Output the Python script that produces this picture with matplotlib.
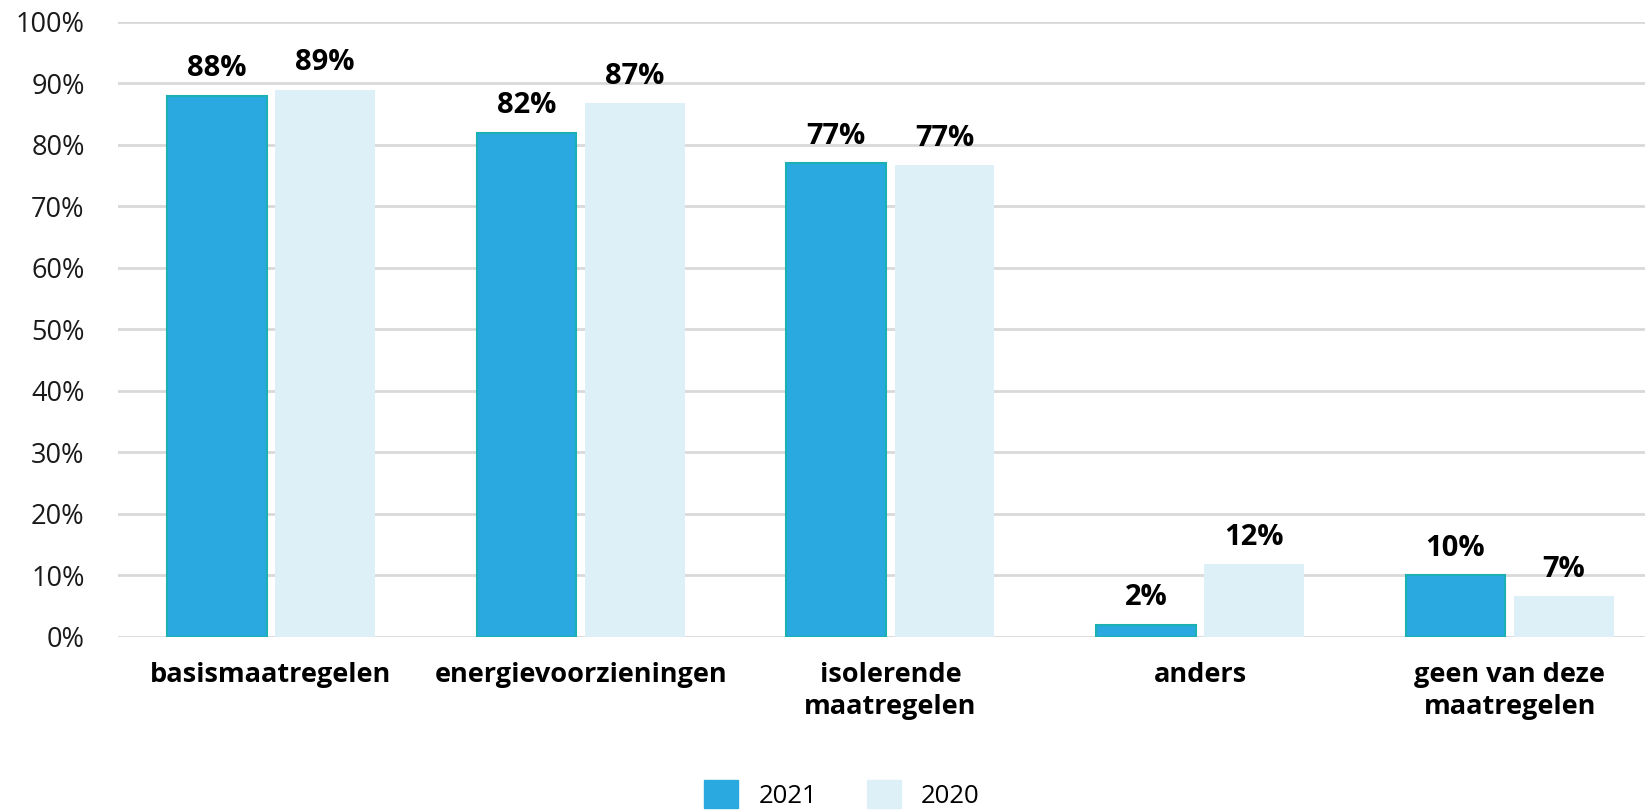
import matplotlib
matplotlib.use("Agg")
import numpy as np
from matplotlib import pyplot as plt
from matplotlib.patches import Patch

plt.rcParams["font.family"] = ["Open Sans", "DejaVu Sans"]

categories = [
    "basismaatregelen",
    "energievoorzieningen",
    "isolerende\nmaatregelen",
    "anders",
    "geen van deze\nmaatregelen",
]
values_2021 = [88, 82, 77, 2, 10]
values_2020 = [89, 86.8, 76.7, 11.8, 6.6]
labels_2021 = ["88%", "82%", "77%", "2%", "10%"]
labels_2020 = ["89%", "87%", "77%", "12%", "7%"]
yticks = list(range(0, 101, 10))

c2021 = "#29a9e0"
c2020 = "#ddf0f8"
edge2021 = "#1bb0b2"

fig = plt.figure(figsize=(16.48, 8.11), dpi=100)
ax = fig.add_axes([0.0716, 0.2146, 0.9264, 0.7584])

x = np.arange(len(categories))
w = 0.322
off = 0.175

b1 = ax.bar(x - off, values_2021, w, color=c2021, edgecolor=edge2021,
            linewidth=1.5, zorder=3)
b2 = ax.bar(x + off, values_2020, w, color=c2020, edgecolor=c2020,
            linewidth=0, zorder=3)

for bars, labels in ((b1, labels_2021), (b2, labels_2020)):
    for rect, lab in zip(bars, labels):
        ax.annotate(lab, (rect.get_x() + rect.get_width() / 2, rect.get_height()),
                    xytext=(0, 9), textcoords="offset points",
                    ha="center", va="bottom", fontsize=21, fontweight="bold")

ax.set_ylim(0, 100)
ax.set_xlim(-0.494, 4.436)
ax.set_yticks(yticks)
ax.set_yticklabels([f"{t}%" for t in yticks], fontsize=19.5, color="#1a1a1a")
ax.set_xticks(x)
ax.set_xticklabels(categories, fontsize=19.5, fontweight="bold", linespacing=1.3)
ax.tick_params(axis="both", length=0)
ax.tick_params(axis="y", pad=24)
ax.tick_params(axis="x", pad=18)
ax.yaxis.grid(True, color="#d9d9d9", linewidth=2, zorder=0)
for s in ax.spines.values():
    s.set_visible(False)

handles = [Patch(facecolor=c2021, edgecolor=c2021),
           Patch(facecolor=c2020, edgecolor=c2020)]
fig.legend(handles, ["2021", "2020"], loc="center", bbox_to_anchor=(0.511, 0.02),
           ncol=2, frameon=False, fontsize=18.5, handlelength=1.3, handleheight=1.3,
           columnspacing=1.95, handletextpad=0.8, borderpad=0)

fig.savefig("out.png", dpi=100)
